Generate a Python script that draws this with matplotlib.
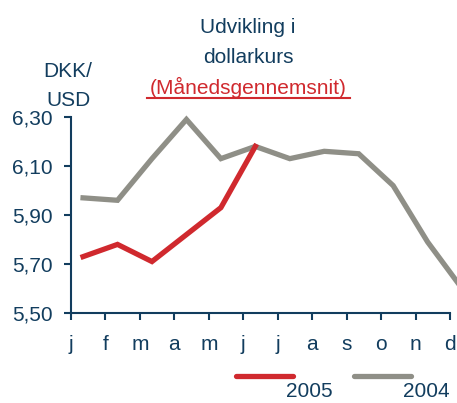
import matplotlib
matplotlib.use("Agg")
import matplotlib.pyplot as plt
from matplotlib.lines import Line2D

months = ["j", "f", "m", "a", "m", "j", "j", "a", "s", "o", "n", "d"]
y2004 = [5.97, 5.96, 6.13, 6.29, 6.13, 6.18, 6.13, 6.16, 6.15, 6.02, 5.79, 5.60]
y2005 = [5.73, 5.78, 5.71, 5.82, 5.93, 6.18]
yticks = [5.50, 5.70, 5.90, 6.10, 6.30]
ytick_labels = ["5,50", "5,70", "5,90", "6,10", "6,30"]

NAVY = "#123d5e"
RED = "#d0292e"
GRAY = "#8f8f87"
W, H = 457, 403
FS = 15

plt.rcParams['font.family'] = ['Liberation Sans', 'DejaVu Sans']

fig = plt.figure(figsize=(W / 100, H / 100), dpi=100)
ax = fig.add_axes([71 / W, 1 - 313 / H, (450 - 71) / W, (313 - 117) / H])

off = 0.35
x04 = [i + off for i in range(len(y2004))]
x05 = [i + off for i in range(len(y2005))]
ax.plot(x04, y2004, color=GRAY, lw=3.8, solid_joinstyle='miter', clip_on=False, zorder=2)
ax.plot(x05, y2005, color=RED, lw=3.8, solid_joinstyle='miter', clip_on=False, zorder=3)

ax.set_xlim(0, 11)
ax.set_ylim(5.50, 6.30)
ax.set_xticks(range(len(months)))
ax.set_xticklabels(months)
ax.set_yticks(yticks)
ax.set_yticklabels(ytick_labels)

for s in ["top", "right"]:
    ax.spines[s].set_visible(False)
for s in ["left", "bottom"]:
    ax.spines[s].set_color(NAVY)
    ax.spines[s].set_linewidth(1.5)
ax.tick_params(axis='both', colors=NAVY, labelsize=FS, length=5, width=1.5, direction='out')
ax.tick_params(axis='y', pad=8)
ax.tick_params(axis='x', pad=11)

def ft(x, y, s, **kw):
    fig.text(x / W, 1 - y / H, s, **kw)

ft(248, 33, "Udvikling i", ha='center', va='baseline', fontsize=FS, color=NAVY)
ft(248, 63, "dollarkurs", ha='center', va='baseline', fontsize=FS, color=NAVY)
ft(248, 94, "(Månedsgennemsnit)", ha='center', va='baseline', fontsize=FS, color=RED)
fig.add_artist(Line2D([147 / W, 350 / W], [1 - 97.5 / H, 1 - 97.5 / H], color=RED, lw=1.5))
ft(68, 77, "DKK/", ha='center', va='baseline', fontsize=FS, color=NAVY)
ft(69, 106, "USD", ha='center', va='baseline', fontsize=FS, color=NAVY)

fig.add_artist(Line2D([236 / W, 293 / W], [1 - 376 / H, 1 - 376 / H], color=RED, lw=3.8, solid_capstyle='round'))
fig.add_artist(Line2D([354 / W, 411 / W], [1 - 376 / H, 1 - 376 / H], color=GRAY, lw=3.8, solid_capstyle='round'))
ft(309, 397, "2005", ha='center', va='baseline', fontsize=FS, color=NAVY)
ft(426, 397, "2004", ha='center', va='baseline', fontsize=FS, color=NAVY)

fig.savefig("out.png", dpi=100)
